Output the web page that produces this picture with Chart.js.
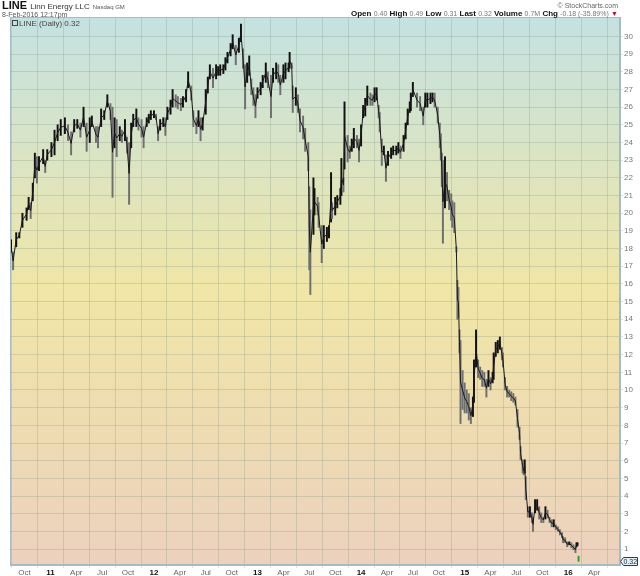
<!DOCTYPE html>
<html>
<head>
<meta charset="utf-8">
<script src="https://cdn.jsdelivr.net/npm/chart.js@4.4.0/dist/chart.umd.min.js"></script>
<style>
html, body { margin: 0; padding: 0; background: #fff; }
#wrap { position: relative; width: 640px; height: 576px; overflow: hidden; }
#c { position: absolute; left: 0; top: 0; }
.txt { position: absolute; font-family: "Liberation Sans", Arial, sans-serif; white-space: nowrap; line-height: 1; font-size: 7px; }
.txt span { line-height: 1; }
.lab { color: #111; font-weight: bold; font-size: 8px; }
.val { color: #777; font-size: 7px; }
</style>
</head>
<body>
<div id="wrap">
  <canvas id="c" width="640" height="576"></canvas>
  <div class="txt" style="left:2px;top:0px;font-size:11px;">
    <span style="font-size:11px;font-weight:bold;color:#111;">LINE</span>
    <span style="font-size:8px;color:#333;">Linn Energy LLC</span>
    <span style="font-size:6px;color:#555;">Nasdaq GM</span>
  </div>
  <div class="txt" style="left:2px;top:11px;font-size:7px;color:#555;">8-Feb-2016 12:17pm</div>
  <div class="txt" style="right:22px;top:2px;font-size:7px;color:#666;">&copy; StockCharts.com</div>
  <div class="txt" style="right:22px;top:10px;font-size:8px;">
    <span class="lab">Open</span> <span class="val">0.40</span>
    <span class="lab">High</span> <span class="val">0.49</span>
    <span class="lab">Low</span> <span class="val">0.31</span>
    <span class="lab">Last</span> <span class="val">0.32</span>
    <span class="lab">Volume</span> <span class="val">0.7M</span>
    <span class="lab">Chg</span> <span class="val">-0.18 (-35.89%)</span>
    <span style="color:#c0102a;font-size:7px;">&#9660;</span>
  </div>
  <div class="txt" style="left:12px;top:20px;font-size:8px;color:#444;">
    <span style="display:inline-block;width:4px;height:4px;border:1px solid #444;margin-right:1px;"></span>LINE (Daily) 0.32
  </div>
</div>

<script>
// dates as decimal years, one sample every few trading days, low/high
const dates = [
  2010.62, 2010.64, 2010.67, 2010.70, 2010.73, 2010.77, 2010.79, 2010.81, 2010.83, 2010.85, 2010.87, 2010.89, 2010.93, 2010.95, 2010.97,
  2011.01, 2011.04, 2011.07, 2011.10, 2011.14, 2011.17, 2011.20, 2011.23, 2011.26, 2011.29, 2011.32, 2011.35, 2011.38, 2011.40, 2011.44,
  2011.46, 2011.49, 2011.52, 2011.55, 2011.58, 2011.60, 2011.62, 2011.64, 2011.67, 2011.69, 2011.72, 2011.74, 2011.76, 2011.78, 2011.80,
  2011.83, 2011.85, 2011.88, 2011.90, 2011.93, 2011.95, 2011.97,
  2012.00, 2012.02, 2012.04, 2012.06, 2012.09, 2012.11, 2012.13, 2012.16, 2012.18, 2012.21, 2012.23, 2012.26, 2012.28, 2012.31, 2012.33,
  2012.36, 2012.38, 2012.41, 2012.43, 2012.45, 2012.47, 2012.50, 2012.52, 2012.54, 2012.57, 2012.60, 2012.62, 2012.64, 2012.67, 2012.69,
  2012.71, 2012.74, 2012.76, 2012.79, 2012.82, 2012.84, 2012.86, 2012.88, 2012.90, 2012.92, 2012.94, 2012.96, 2012.98,
  2013.00, 2013.03, 2013.05, 2013.08, 2013.10, 2013.13, 2013.15, 2013.18, 2013.20, 2013.22, 2013.25, 2013.27, 2013.30, 2013.31, 2013.33,
  2013.34, 2013.37, 2013.39, 2013.41, 2013.44, 2013.46, 2013.49, 2013.50, 2013.51, 2013.54, 2013.55, 2013.58, 2013.59, 2013.62, 2013.64,
  2013.67, 2013.69, 2013.71, 2013.72, 2013.75, 2013.77, 2013.80, 2013.81, 2013.83, 2013.84, 2013.87, 2013.89, 2013.91, 2013.93, 2013.96,
  2013.98,
  2014.00, 2014.02, 2014.04, 2014.06, 2014.09, 2014.11, 2014.13, 2014.15, 2014.17, 2014.18, 2014.20, 2014.22, 2014.24, 2014.26, 2014.29,
  2014.31, 2014.34, 2014.36, 2014.38, 2014.41, 2014.43, 2014.45, 2014.47, 2014.48, 2014.50, 2014.54, 2014.57, 2014.60, 2014.62, 2014.64,
  2014.67, 2014.69, 2014.71, 2014.74, 2014.76, 2014.77, 2014.78, 2014.79, 2014.81, 2014.83, 2014.85, 2014.87, 2014.88, 2014.90, 2014.92,
  2014.93, 2014.94, 2014.95, 2014.96, 2014.98,
  2015.00, 2015.02, 2015.04, 2015.06, 2015.08, 2015.09, 2015.11, 2015.13, 2015.15, 2015.17, 2015.19, 2015.21, 2015.23, 2015.25, 2015.27,
  2015.28, 2015.30, 2015.32, 2015.34, 2015.36, 2015.37, 2015.39, 2015.41, 2015.43, 2015.45, 2015.47, 2015.49, 2015.51, 2015.53, 2015.54,
  2015.56, 2015.57, 2015.58, 2015.59, 2015.61, 2015.63, 2015.65, 2015.66, 2015.68, 2015.70, 2015.72, 2015.74, 2015.76, 2015.78, 2015.80,
  2015.82, 2015.84, 2015.86, 2015.88, 2015.90, 2015.92, 2015.94, 2015.95, 2015.97, 2015.99,
  2016.01, 2016.03, 2016.05, 2016.07, 2016.08, 2016.09, 2016.10
];

const highs = [
  18.5, 17.8, 18.9, 18.9, 20.0, 20.3, 20.9, 20.6, 21.7, 23.4, 23.2, 23.2, 23.6, 23.0, 23.6,
  24.0, 24.7, 25.0, 25.3, 25.4, 25.0, 24.6, 25.3, 25.3, 25.1, 26.0, 25.1, 25.4, 25.5, 24.9,
  24.9, 25.9, 25.8, 26.7, 26.2, 26.0, 25.4, 25.3, 24.9, 24.7, 25.3, 24.3, 24.0, 25.1, 25.6,
  25.9, 25.4, 25.3, 24.9, 25.4, 25.6, 25.8,
  25.8, 25.6, 24.9, 25.3, 25.4, 25.4, 26.0, 26.4, 27.0, 26.7, 26.6, 26.5, 26.6, 27.0, 28.0,
  27.2, 25.8, 25.4, 25.8, 25.4, 25.4, 27.0, 27.7, 28.4, 28.2, 28.4, 28.3, 28.4, 28.4, 28.8,
  29.1, 29.6, 30.1, 29.5, 29.9, 30.7, 29.3, 28.4, 28.5, 28.9, 27.6, 27.1, 26.7,
  27.1, 27.4, 27.8, 28.5, 28.0, 27.8, 28.2, 28.5, 28.4, 27.8, 28.4, 28.5, 28.5, 29.1, 28.5,
  27.2, 27.1, 26.7, 25.9, 25.5, 24.8, 24.0, 21.5, 20.2, 22.0, 21.4, 20.9, 20.6, 19.3, 19.3,
  19.2, 19.3, 22.3, 20.6, 20.9, 21.0, 21.4, 23.1, 22.0, 26.3, 24.4, 23.8, 24.2, 24.8, 24.4,
  24.2,
  25.0, 26.1, 26.5, 27.2, 26.8, 26.7, 27.1, 27.1, 26.1, 25.7, 24.2, 23.8, 23.3, 23.5, 23.7,
  23.8, 23.8, 24.0, 23.8, 24.4, 25.1, 25.9, 26.3, 26.8, 27.4, 26.8, 26.6, 26.0, 26.8, 26.8,
  26.8, 26.8, 26.8, 26.0, 25.1, 24.5, 23.4, 23.0, 23.2, 22.3, 21.3, 21.1, 20.7, 20.6, 18.1,
  16.2, 15.8, 13.4, 12.8, 11.1,
  10.4, 10.0, 9.8, 9.0, 9.6, 11.7, 13.4, 11.7, 11.3, 11.1, 11.0, 10.6, 11.1, 10.7, 11.0,
  12.1, 12.7, 12.8, 13.0, 12.4, 12.1, 10.7, 10.2, 10.0, 9.9, 9.8, 9.6, 8.9, 7.9, 6.8,
  6.05, 5.65, 6.05, 5.1, 3.4, 3.4, 3.05, 2.8, 3.8, 3.8, 3.4, 3.05, 2.8, 3.4, 3.2,
  2.8, 2.66, 2.66, 2.37, 2.26, 2.1, 1.93, 1.7, 1.64, 1.41,
  1.41, 1.36, 1.24, 1.13, 1.36, 1.36, 0.6
];

const lows = [
  17.8, 16.8, 18.1, 18.6, 19.2, 19.6, 20.2, 19.7, 20.7, 22.0, 21.7, 22.4, 22.8, 22.3, 23.0,
  23.2, 23.3, 24.1, 24.4, 24.5, 24.1, 23.3, 24.6, 24.8, 24.3, 24.9, 23.5, 24.0, 24.9, 24.0,
  23.7, 24.9, 25.3, 26.0, 25.3, 20.9, 23.7, 23.2, 24.1, 24.0, 24.1, 23.4, 20.5, 23.7, 24.9,
  24.9, 24.7, 24.3, 23.7, 24.9, 25.1, 25.3,
  25.4, 25.3, 24.1, 24.7, 24.9, 24.4, 25.3, 25.6, 26.0, 26.0, 25.9, 25.8, 26.0, 26.3, 27.1,
  26.4, 24.9, 24.5, 24.9, 24.1, 24.7, 25.6, 26.8, 27.6, 27.1, 27.6, 27.8, 27.8, 27.9, 28.1,
  28.5, 28.9, 29.3, 28.4, 29.1, 29.7, 28.2, 25.9, 27.4, 27.8, 26.7, 26.1, 25.4,
  26.5, 26.7, 27.1, 27.4, 27.1, 25.4, 27.4, 27.6, 27.4, 26.7, 27.4, 27.6, 28.0, 28.2, 28.2,
  25.7, 26.1, 25.7, 24.6, 24.2, 23.5, 22.4, 16.8, 15.4, 18.8, 19.9, 19.9, 19.2, 17.2, 18.0,
  18.4, 18.6, 19.5, 19.7, 19.9, 20.3, 20.5, 21.0, 21.2, 22.5, 22.9, 23.1, 23.5, 23.7, 23.7,
  22.9,
  23.8, 25.4, 25.5, 26.1, 26.1, 26.1, 26.3, 26.4, 25.4, 24.6, 22.7, 23.3, 21.8, 22.7, 23.1,
  23.3, 23.3, 23.4, 23.1, 23.5, 24.2, 25.0, 25.7, 25.8, 26.6, 26.0, 25.8, 25.0, 26.0, 26.0,
  26.2, 26.3, 26.0, 25.1, 23.7, 23.0, 21.5, 18.3, 20.3, 20.7, 20.2, 19.6, 19.2, 18.9, 17.8,
  14.0, 14.1, 12.1, 8.1, 8.9,
  8.7, 8.7, 8.3, 8.1, 8.5, 9.3, 11.3, 10.7, 10.6, 10.2, 10.2, 9.6, 10.2, 10.0, 10.4,
  10.6, 11.9, 12.1, 12.3, 11.7, 11.3, 10.0, 9.6, 9.6, 9.4, 9.3, 9.15, 7.9, 7.2, 6.05,
  5.3, 5.2, 5.3, 3.8, 2.8, 2.8, 2.5, 2.0, 3.05, 3.2, 2.7, 2.5, 2.5, 2.7, 2.77,
  2.5, 2.26, 2.26, 2.1, 2.0, 1.8, 1.64, 1.36, 1.36, 1.13,
  1.24, 1.07, 0.96, 0.8, 1.13, 1.2, 0.31
];

const lastValue = 0.32;

const xTickDates = [
  2010.75, 2011.00, 2011.25, 2011.50, 2011.75, 2012.00, 2012.25, 2012.50, 2012.75, 2013.00, 2013.25, 2013.50,
  2013.75, 2014.00, 2014.25, 2014.50, 2014.75, 2015.00, 2015.25, 2015.50, 2015.75, 2016.00, 2016.25
];
const xTickLabels = [
  'Oct', '11', 'Apr', 'Jul', 'Oct', '12', 'Apr', 'Jul', 'Oct', '13', 'Apr', 'Jul',
  'Oct', '14', 'Apr', 'Jul', 'Oct', '15', 'Apr', 'Jul', 'Oct', '16', 'Apr'
];
const yTicks = [1, 2, 3, 4, 5, 6, 7, 8, 9, 10, 11, 12, 13, 14, 15, 16, 17, 18, 19, 20, 21, 22, 23, 24, 25, 26, 27, 28, 29, 30];

const FONT = '"Liberation Sans", Arial, sans-serif';

// mid of each bar: joins the bars and shades the down bars grey
const mids = dates.map((d, i) => (lows[i] + highs[i]) / 2);

// the background fades from teal at the top through yellow to peach
const backdrop = {
    id: 'backdrop',
    beforeDraw(chart) {
        const { ctx, chartArea: a } = chart;
        const g = ctx.createLinearGradient(0, a.top, 0, a.bottom);
        g.addColorStop(0, '#c4e2e2');
        g.addColorStop(0.5, '#f0e6a6');
        g.addColorStop(1, '#ecd1be');
        ctx.save();
        ctx.fillStyle = g;
        ctx.fillRect(a.left, a.top, a.right - a.left, a.bottom - a.top);
        ctx.restore();
    },
    afterDraw(chart) {
        const { ctx, chartArea: a } = chart;
        ctx.save();
        ctx.strokeStyle = '#a6bcc4';
        ctx.lineWidth = 1;
        ctx.strokeRect(a.left + 0.5, a.top + 0.5, a.right - a.left - 1, a.bottom - a.top - 1);

        // last price tag on the right axis
        const y = Math.round(chart.scales.y.getPixelForValue(lastValue)) + 0.5;
        const x = a.right + 0.5;
        ctx.beginPath();
        ctx.moveTo(x, y);
        ctx.lineTo(x + 3, y - 4);
        ctx.lineTo(x + 17, y - 4);
        ctx.lineTo(x + 17, y + 4);
        ctx.lineTo(x + 3, y + 4);
        ctx.closePath();
        ctx.fillStyle = '#e4f2f6';
        ctx.fill();
        ctx.strokeStyle = '#2a3a5a';
        ctx.stroke();
        ctx.fillStyle = '#1a2a4a';
        ctx.font = '7px ' + FONT;
        ctx.textBaseline = 'middle';
        ctx.fillText(lastValue.toFixed(2), x + 3, y + 0.5);
        ctx.restore();
    }
};

new Chart(document.getElementById('c'), {
    type: 'bar',
    data: {
        datasets: [{
            type: 'line',
            data: dates.slice(0, -1).map((d, i) => ({ x: d, y: mids[i] })),
            borderColor: '#1a1a1a',
            borderWidth: 1,
            pointRadius: 0,
            tension: 0
        }, {
            data: dates.map((d, i) => ({ x: d, y: [lows[i], highs[i]] })),
            backgroundColor: ctx => {
                const i = ctx.dataIndex;
                if (i === dates.length - 1) return '#2e9b2e';
                return i > 0 && mids[i] < mids[i - 1] ? '#6f6f6f' : '#111';
            },
            borderWidth: 0,
            barThickness: 1.3
        }]
    },
    options: {
        responsive: false,
        animation: false,
        layout: { padding: { left: 10, top: 17, right: 0, bottom: 0 } },
        plugins: { legend: { display: false }, tooltip: { enabled: false } },
        scales: {
            x: {
                type: 'linear',
                min: 2010.61,
                max: 2016.50,
                offset: false,
                afterBuildTicks: s => { s.ticks = xTickDates.map(v => ({ value: v })); },
                afterFit: s => { s.height = 11; },
                grid: { color: 'rgba(120,140,120,0.25)', tickLength: 3 },
                border: { color: '#a6bcc4' },
                ticks: {
                    autoSkip: false,
                    maxRotation: 0,
                    padding: 0,
                    callback: (v, i) => xTickLabels[i],
                    color: ctx => /^\d/.test(xTickLabels[ctx.index]) ? '#111' : '#666',
                    font: ctx => ({
                        family: FONT,
                        size: 8,
                        weight: /^\d/.test(xTickLabels[ctx.index]) ? 'bold' : 'normal'
                    })
                }
            },
            y: {
                position: 'right',
                min: 0.1,
                max: 31.1,
                afterBuildTicks: s => { s.ticks = yTicks.map(v => ({ value: v })); },
                afterFit: s => { s.width = 20; },
                grid: { color: 'rgba(120,140,120,0.25)', tickLength: 3 },
                border: { color: '#a6bcc4' },
                ticks: {
                    padding: 1,
                    color: '#777',
                    font: { family: FONT, size: 8 }
                }
            }
        }
    },
    plugins: [backdrop]
});
</script>
</body>
</html>
